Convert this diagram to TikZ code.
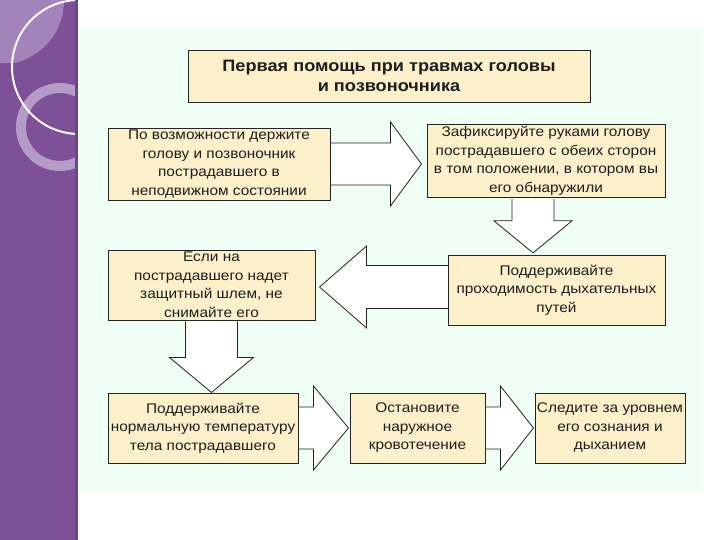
\documentclass[tikz,border=0pt]{standalone}
\usepackage{fontspec}
\setmainfont{Liberation Sans}[FakeStretch=1.1]
\usetikzlibrary{calc}
\pgfdeclarelayer{back}
\pgfdeclarelayer{mid}
\pgfsetlayers{back,mid,main}
\definecolor{bandpurple}{RGB}{126,80,152}
\definecolor{bandlight}{RGB}{162,132,186}
\definecolor{ringcol}{RGB}{186,164,206}
\definecolor{banddark}{RGB}{108,68,136}
\definecolor{mintbg}{RGB}{240,255,246}
\definecolor{boxfill}{RGB}{251,240,202}
\definecolor{boxline}{RGB}{35,35,35}
\definecolor{txt}{RGB}{30,30,30}
\tikzset{
  stepbox/.style={draw=boxline, line width=0.9pt, fill=boxfill, align=center,
    text=txt, font=\fontsize{14}{18.5}\selectfont, inner sep=2pt},
  lowtext/.style={execute at begin node={\rule{0pt}{20pt}}},
  titlebox/.style={stepbox, font=\bfseries\fontsize{16.5}{20}\selectfont},
  blk/.style={draw=boxline, line width=0.8pt, fill=white, line join=miter}
}
\begin{document}
\begin{tikzpicture}[x=1pt,y=-1pt]
\useasboundingbox (0,0) rectangle (720,540);
\begin{pgfonlayer}{back}
\fill[white] (0,0) rectangle (720,540);
% left purple band with decorations
\fill[bandpurple] (0,0) rectangle (78,540);
\begin{scope}
  \clip (0,0) rectangle (76,540);
  \fill[bandlight] (0,0) -- (64,0) .. controls (64,30) and (45,55) .. (15,63) -- (0,63) -- cycle;
  \draw[ringcol, line width=10pt, opacity=0.9] (60,127) circle (39);
  \draw[white, line width=2pt] (79,67) circle (67);
\end{scope}
\fill[banddark] (75,0) rectangle (78,540);
% mint background
\fill[mintbg] (78,28) rectangle (703,492);
\end{pgfonlayer}

% boxes
\node[titlebox, minimum width=402, minimum height=52] (title) at (389,76)
  {Первая помощь при травмах головы\\и позвоночника};
\node[stepbox, lowtext, minimum width=222, minimum height=72] (b1) at (219,164)
  {По возможности держите\\голову и позвоночник\\пострадавшего в\\неподвижном состоянии};
\node[stepbox, lowtext, minimum width=238, minimum height=72] (b2) at (546,161)
  {Зафиксируйте руками голову\\пострадавшего с обеих сторон\\в том положении, в котором вы\\его обнаружили};
\node[stepbox, minimum width=207, minimum height=70] (b3) at (211.5,285)
  {Если на\\пострадавшего надет\\защитный шлем, не\\снимайте его};
\node[stepbox, minimum width=217, minimum height=70] (b4) at (556.5,290)
  {Поддерживайте\\проходимость дыхательных\\путей};
\node[stepbox, minimum width=190, minimum height=70] (b5) at (203,428)
  {Поддерживайте\\нормальную температуру\\тела пострадавшего};
\node[stepbox, minimum width=135, minimum height=70] (b6) at (417.5,428)
  {Остановите\\наружное\\кровотечение};
\node[stepbox, minimum width=150, minimum height=70] (b7) at (610,428)
  {Следите за уровнем\\его сознания и\\дыханием};

% block arrows (drawn behind boxes)
\begin{pgfonlayer}{mid}
\draw[blk, shift={(b1.east)}] (-1,-21) -- (60,-21) -- (60,-42) -- (91,0) -- (60,42) -- (60,21) -- (-1,21);
\draw[blk, shift={($(b2.south)+(-13,0)$)}] (-21,1) -- (-21,23) -- (-39,23) -- (0,55) -- (39,23) -- (21,23) -- (21,1);
\draw[blk, shift={($(b4.west)+(0,-3)$)}] (1,-21.5) -- (-81,-21.5) -- (-81,-41) -- (-128,0) -- (-81,41) -- (-81,21.5) -- (1,21.5);
\draw[blk, shift={(b3.south)}] (-26,1) -- (-26,37) -- (-42,37) -- (0,72) -- (42,37) -- (26,37) -- (26,1);
\draw[blk, shift={(b5.east)}] (-1,-21) -- (15,-21) -- (15,-42) -- (50,0) -- (15,42) -- (15,21) -- (-1,21);
\draw[blk, shift={(b6.east)}] (-1,-21) -- (15,-21) -- (15,-42) -- (48,0) -- (15,42) -- (15,21) -- (-1,21);
\end{pgfonlayer}
\end{tikzpicture}
\end{document}
